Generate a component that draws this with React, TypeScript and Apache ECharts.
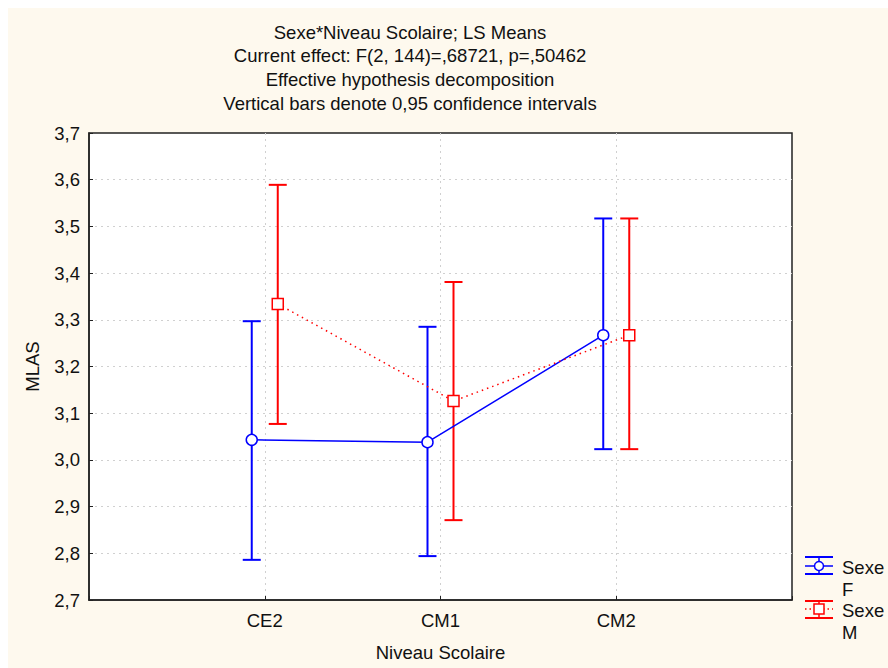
import React, { useEffect, useRef } from "react";
import * as echarts from "echarts";

const categories = ["CE2", "CM1", "CM2"];
const fMeans = [3.043, 3.038, 3.267];
const fLow = [2.786, 2.794, 3.023];
const fHigh = [3.297, 3.285, 3.517];
const mMeans = [3.334, 3.126, 3.267];
const mLow = [3.077, 2.871, 3.023];
const mHigh = [3.589, 3.381, 3.517];
const titleLines = [
  "Sexe*Niveau Scolaire; LS Means",
  "Current effect: F(2, 144)=,68721, p=,50462",
  "Effective hypothesis decomposition",
  "Vertical bars denote 0,95 confidence intervals",
];

const BLUE = "#0000ff";
const RED = "#ff0000";
const FONT = "Liberation Sans, Arial, sans-serif";
const FS = 18.5;
const OFFSET = 0.074;

function errorSeries(name: string, xs: number[], low: number[], high: number[], color: string) {
  return {
    name,
    type: "custom",
    z: 2,
    data: xs.map((x, i) => [x, low[i], high[i]]),
    renderItem: (params: any, api: any) => {
      const x = api.value(0);
      const lo = api.coord([x, api.value(1)]);
      const hi = api.coord([x, api.value(2)]);
      const hw = 9;
      const style = { stroke: color, lineWidth: 2 };
      return {
        type: "group",
        children: [
          { type: "line", shape: { x1: lo[0], y1: lo[1], x2: hi[0], y2: hi[1] }, style },
          { type: "line", shape: { x1: lo[0] - hw, y1: lo[1], x2: lo[0] + hw, y2: lo[1] }, style },
          { type: "line", shape: { x1: hi[0] - hw, y1: hi[1], x2: hi[0] + hw, y2: hi[1] }, style },
        ],
      };
    },
  };
}

export default function App() {
  const ref = useRef<HTMLDivElement>(null);
  useEffect(() => {
    if (!ref.current) return;
    const chart = echarts.init(ref.current, null, { renderer: "svg" });
    const fx = categories.map((_, i) => i + 1 - OFFSET);
    const mx = categories.map((_, i) => i + 1 + OFFSET);
    const split = {
      show: true,
      showMinLine: false,
      showMaxLine: false,
      lineStyle: { color: "#d0d0d0", type: [2, 4], width: 1 },
    };
    const legText = (text: string, x: number, y: number) => ({
      type: "text",
      x,
      y,
      style: { text, fontSize: FS, fill: "#111", verticalAlign: "middle", fontFamily: FONT },
    });
    const option: any = {
      animation: false,
      backgroundColor: "#fef9ee",
      textStyle: { fontFamily: FONT },
      title: titleLines.map((t, i) => ({
        text: t,
        left: 397,
        textAlign: "center",
        top: 9.5 + i * 23.7,
        textStyle: { fontSize: FS, fontWeight: "normal", color: "#111", fontFamily: FONT },
      })),
      grid: {
        left: 81,
        right: 96,
        top: 125,
        bottom: 68,
        show: true,
        backgroundColor: "#ffffff",
        borderColor: "#222",
        borderWidth: 1.5,
      },
      xAxis: {
        type: "value",
        min: 0,
        max: 4,
        interval: 1,
        name: "Niveau Scolaire",
        nameLocation: "middle",
        nameGap: 43,
        nameTextStyle: { fontSize: FS, color: "#111", fontFamily: FONT },
        axisLine: { show: true, lineStyle: { color: "#222", width: 1.5 } },
        axisTick: { show: true, inside: true, length: 4, lineStyle: { color: "#222" } },
        axisLabel: {
          fontSize: FS,
          color: "#111",
          margin: 11,
          fontFamily: FONT,
          formatter: (v: number) => (v >= 1 && v <= categories.length ? categories[v - 1] : ""),
        },
        splitLine: split,
      },
      yAxis: {
        type: "value",
        min: 2.7,
        max: 3.7,
        interval: 0.1,
        name: "MLAS",
        nameLocation: "middle",
        nameGap: 47,
        nameTextStyle: { fontSize: FS, color: "#111", fontFamily: FONT },
        axisLine: { show: true, lineStyle: { color: "#222", width: 1.5 } },
        axisTick: { show: true, inside: true, length: 4, lineStyle: { color: "#222" } },
        axisLabel: {
          fontSize: FS,
          color: "#111",
          margin: 9,
          fontFamily: FONT,
          formatter: (v: number) => v.toFixed(1).replace(".", ","),
        },
        splitLine: split,
      },
      series: [
        errorSeries("F err", fx, fLow, fHigh, BLUE),
        errorSeries("M err", mx, mLow, mHigh, RED),
        {
          name: "Sexe F",
          type: "line",
          z: 3,
          data: fx.map((x, i) => [x, fMeans[i]]),
          symbol: "circle",
          symbolSize: 11,
          lineStyle: { color: BLUE, width: 1.5 },
          itemStyle: { color: "#fff", borderColor: BLUE, borderWidth: 1.5 },
        },
        {
          name: "Sexe M",
          type: "line",
          z: 3,
          data: mx.map((x, i) => [x, mMeans[i]]),
          symbol: "rect",
          symbolSize: 11,
          lineStyle: { color: RED, width: 1.5, type: [1.5, 4] },
          itemStyle: { color: "#fff", borderColor: RED, borderWidth: 1.5 },
        },
      ],
      graphic: [
        // legend F
        { type: "line", shape: { x1: 797, y1: 549, x2: 825, y2: 549 }, style: { stroke: BLUE, lineWidth: 2 } },
        { type: "line", shape: { x1: 797, y1: 566, x2: 825, y2: 566 }, style: { stroke: BLUE, lineWidth: 2 } },
        { type: "line", shape: { x1: 811, y1: 549, x2: 811, y2: 566 }, style: { stroke: BLUE, lineWidth: 1.5 } },
        { type: "line", shape: { x1: 797, y1: 558, x2: 825, y2: 558 }, style: { stroke: BLUE, lineWidth: 1.5 } },
        { type: "circle", shape: { cx: 811, cy: 558, r: 4.5 }, style: { fill: "#fff", stroke: BLUE, lineWidth: 1.5 } },
        legText("Sexe", 834, 559),
        legText("F", 834, 581),
        // legend M
        { type: "line", shape: { x1: 797, y1: 593, x2: 825, y2: 593 }, style: { stroke: RED, lineWidth: 2 } },
        { type: "line", shape: { x1: 797, y1: 610, x2: 825, y2: 610 }, style: { stroke: RED, lineWidth: 2 } },
        { type: "line", shape: { x1: 811, y1: 593, x2: 811, y2: 610 }, style: { stroke: RED, lineWidth: 1.5 } },
        { type: "line", shape: { x1: 797, y1: 601, x2: 825, y2: 601 }, style: { stroke: RED, lineWidth: 1.5, lineDash: [1.5, 3] } },
        { type: "rect", shape: { x: 806, y: 596, width: 10, height: 10 }, style: { fill: "#fff", stroke: RED, lineWidth: 1.5 } },
        legText("Sexe", 834, 602),
        legText("M", 834, 624),
      ],
    };
    chart.setOption(option);
    return () => chart.dispose();
  }, []);
  return (
    <div
      ref={ref}
      style={{ position: "fixed", left: 8, top: 8, width: 880, height: 660 }}
    />
  );
}
